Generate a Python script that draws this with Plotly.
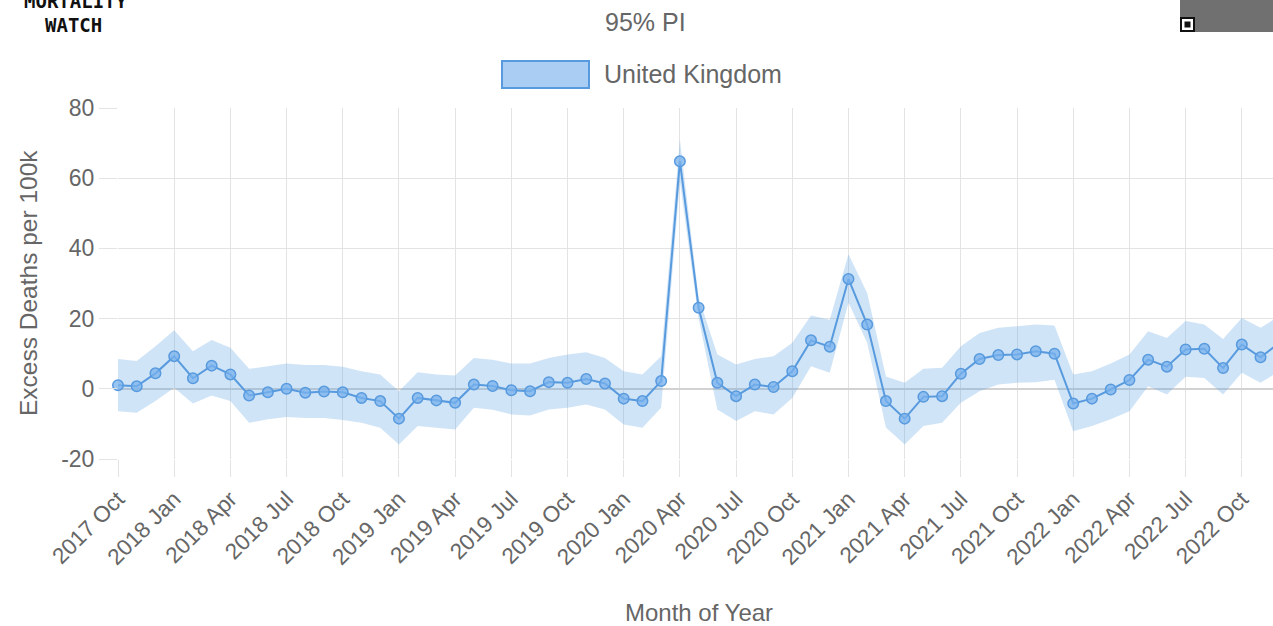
import plotly.graph_objects as go

# ---------------- data ----------------
years = [2017, 2018, 2019, 2020, 2021, 2022]
month_names = ["Jan", "Feb", "Mar", "Apr", "May", "Jun",
               "Jul", "Aug", "Sep", "Oct", "Nov", "Dec"]
categories = [f"{y} {m}" for y in years for m in month_names][9:]  # 2017 Oct .. 2022 Dec

excess = [1.0, 0.7, 4.4,
          9.3, 3.0, 6.6, 4.1, -1.9, -1.0, 0.0, -1.1, -0.8, -1.0, -2.6, -3.5,
          -8.5, -2.6, -3.3, -4.0, 1.2, 0.8, -0.4, -0.7, 1.9, 1.7, 2.8, 1.5,
          -2.8, -3.5, 2.2, 64.8, 23.1, 1.7, -2.1, 1.2, 0.5, 5.0, 13.8, 12.0,
          31.3, 18.3, -3.5, -8.5, -2.3, -2.1, 4.3, 8.5, 9.6, 9.8, 10.7, 10.0,
          -4.2, -2.8, -0.2, 2.5, 8.3, 6.3, 11.2, 11.4, 5.9, 12.6, 9.0, 13.0]

pi_upper = [8.5, 7.9, 12.1,
            16.7, 10.7, 13.9, 11.7, 5.7, 6.4, 7.2, 6.8, 6.8, 6.3, 5.0, 4.1,
            -0.7, 4.7, 4.1, 3.8, 8.8, 8.3, 7.2, 7.2, 8.8, 9.8, 10.4, 8.8,
            5.0, 4.1, 9.3, 71.0, 26.0, 9.8, 6.9, 8.5, 9.3, 13.1, 20.9, 19.7,
            38.3, 27.3, 3.5, 1.7, 5.7, 6.0, 12.1, 15.9, 17.4, 17.8, 18.3, 18.0,
            4.1, 5.0, 7.2, 9.8, 16.4, 14.5, 19.3, 18.3, 14.2, 20.2, 17.4, 20.7]

pi_lower = [-6.4, -6.8, -3.5,
            0.3, -4.2, -1.9, -3.5, -9.7, -8.7, -8.0, -8.3, -8.3, -8.9, -9.7, -11.1,
            -15.9, -10.6, -11.1, -11.6, -5.4, -6.0, -7.3, -7.6, -5.9, -5.4, -4.5, -5.9,
            -10.2, -11.1, -5.4, 59.0, 20.0, -5.9, -9.2, -6.4, -7.3, -2.6, 6.4, 4.6,
            24.5, 13.1, -11.0, -15.9, -10.6, -9.7, -4.0, -0.7, 1.2, 1.7, 1.9, 2.6,
            -12.1, -10.6, -8.7, -6.4, 0.7, -1.6, 3.4, 3.1, -1.6, 4.6, 1.7, 5.0]

tick_labels = categories[::3]
y_ticks = [-20, 0, 20, 40, 60, 80]
y_tick_text = ["-20", "0", "20", "40", "60", "80"]

# ---------------- styling ----------------
W, H = 1273, 626
L, T, B, R = 118, 108, 167, 0
PW, PH = W - L - R, H - T - B
LINE = "rgb(88,154,222)"
BAND = "rgba(99,164,230,0.30)"
GRID = "#e3e3e3"
TXT = "#666666"
FONT = "Liberation Sans, Arial, sans-serif"


def px(x):
    return (x - L) / PW


def py(y):
    return (H - B - y) / PH


fig = go.Figure()
fig.add_trace(go.Scatter(x=categories, y=pi_upper, mode="lines",
                         line=dict(width=0, color=BAND), hoverinfo="skip",
                         showlegend=False))
fig.add_trace(go.Scatter(x=categories, y=pi_lower, mode="lines",
                         line=dict(width=0, color=BAND), fill="tonexty",
                         fillcolor=BAND, hoverinfo="skip", showlegend=False))
fig.add_trace(go.Scatter(x=categories, y=excess, mode="lines+markers",
                         name="United Kingdom", cliponaxis=False,
                         line=dict(color=LINE, width=2),
                         marker=dict(size=10.5, color="rgba(120,178,236,0.75)",
                                     line=dict(color=LINE, width=1.5)),
                         showlegend=False))

# 1 category = 18.73 px; plot right edge sits at the window edge
x_end = (W - L) / 18.73
fig.update_xaxes(type="category", range=[0, x_end], tickmode="array",
                 tickvals=tick_labels, ticktext=tick_labels, tickangle=-45,
                 showgrid=True, gridcolor=GRID, gridwidth=1,
                 ticks="outside", ticklen=17, tickcolor=GRID,
                 tickfont=dict(family=FONT, size=22.5, color=TXT),
                 showline=False, zeroline=False)
fig.update_yaxes(range=[-20, 80], tickmode="array", tickvals=y_ticks,
                 ticktext=y_tick_text,
                 showgrid=True, gridcolor=GRID, gridwidth=1,
                 zeroline=True, zerolinecolor="#d2d2d2", zerolinewidth=2,
                 ticks="outside", ticklen=18, tickcolor=GRID,
                 tickfont=dict(family=FONT, size=23, color=TXT),
                 showline=False)

annotations = [
    dict(text="95% PI", x=px(645), y=py(22), xanchor="center", yanchor="middle",
         font=dict(family=FONT, size=25, color=TXT)),
    dict(text="United Kingdom", x=px(602), y=py(74), xanchor="left", yanchor="middle",
         font=dict(family=FONT, size=25, color=TXT)),
    dict(text="Excess Deaths per 100k", x=px(28), y=py(283), textangle=-90,
         xanchor="center", yanchor="middle",
         font=dict(family=FONT, size=24.5, color=TXT)),
    dict(text="Month of Year", x=px(699), y=py(612), xanchor="center", yanchor="middle",
         font=dict(family=FONT, size=24, color=TXT)),
    dict(text="<b>MORTALITY</b>", x=px(76), y=py(1), xanchor="center", yanchor="middle",
         font=dict(family="DejaVu Sans Mono", size=19, color="#111111")),
    dict(text="<b>WATCH</b>", x=px(73), y=py(25), xanchor="center", yanchor="middle",
         font=dict(family="DejaVu Sans Mono", size=19, color="#111111")),
]
for a in annotations:
    a.update(xref="paper", yref="paper", showarrow=False)

shapes = [
    # legend swatch
    dict(type="rect", xref="paper", yref="paper",
         x0=px(502), x1=px(589), y0=py(88), y1=py(61),
         fillcolor="rgb(170,206,243)", line=dict(color=LINE, width=2)),
    # QR code (decorative)
    dict(type="rect", xref="paper", yref="paper",
         x0=px(1180), x1=px(1273), y0=py(32), y1=py(-2),
         fillcolor="#707070", line=dict(width=0)),
    dict(type="rect", xref="paper", yref="paper",
         x0=px(1180), x1=px(1195), y0=py(32), y1=py(17),
         fillcolor="#111111", line=dict(width=0)),
    dict(type="rect", xref="paper", yref="paper",
         x0=px(1182), x1=px(1193), y0=py(30), y1=py(19),
         fillcolor="#ffffff", line=dict(width=0)),
    dict(type="rect", xref="paper", yref="paper",
         x0=px(1184.5), x1=px(1190.5), y0=py(27.5), y1=py(21.5),
         fillcolor="#111111", line=dict(width=0)),
]

fig.update_layout(width=W, height=H, autosize=False,
                  margin=dict(l=L, r=R, t=T, b=B, pad=0),
                  paper_bgcolor="white", plot_bgcolor="white",
                  showlegend=False, annotations=annotations, shapes=shapes,
                  font=dict(family=FONT, color=TXT))

fig.write_html("out.html")
